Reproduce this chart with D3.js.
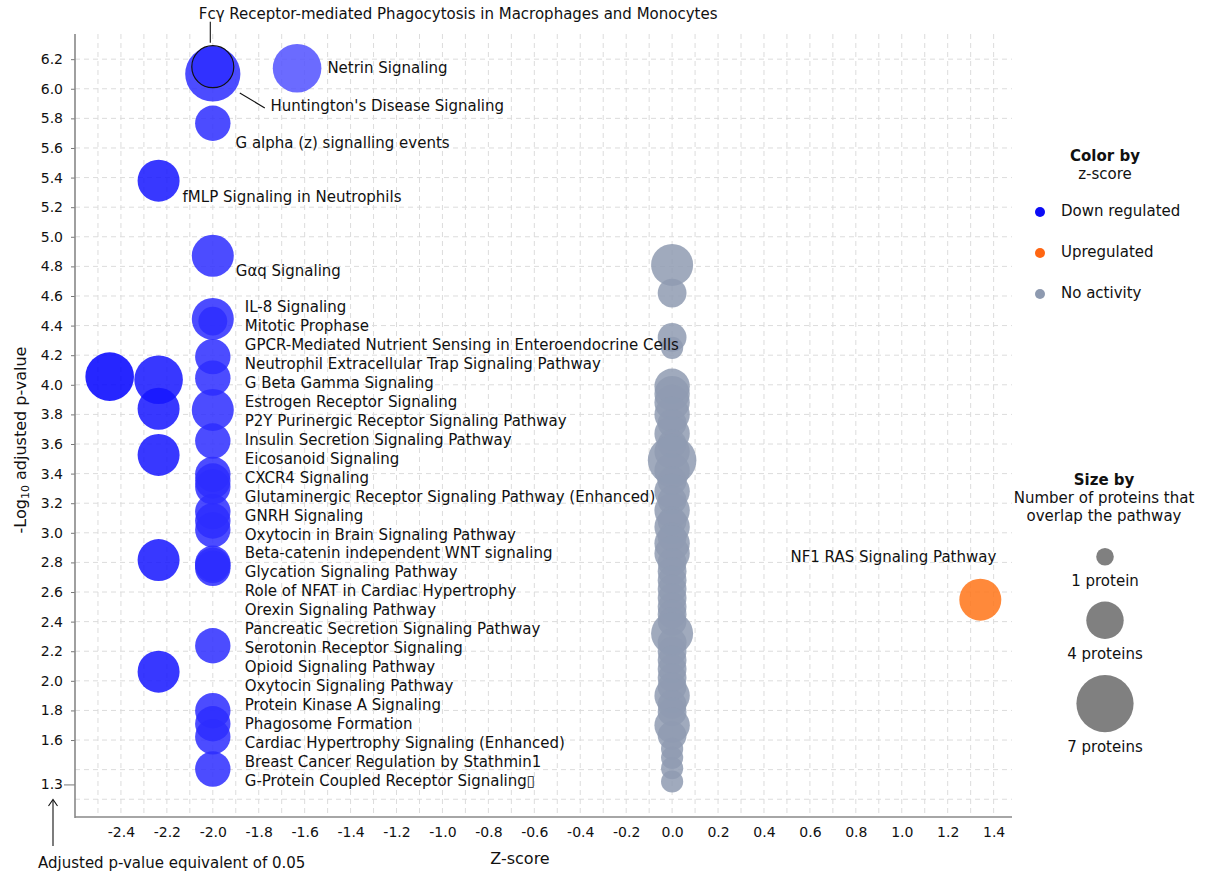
<!DOCTYPE html>
<html>
<head>
<meta charset="utf-8">
<script src="https://cdn.jsdelivr.net/npm/d3@7"></script>
<style>
  body { margin: 0; background: #fff; }
  svg text { font-family: "DejaVu Sans", "Liberation Sans", sans-serif; fill: #111; }
</style>
</head>
<body>
<svg id="chart" width="1205" height="874"></svg>
<script>
// ---------------- data ----------------
// Pathways annotated individually (z-score, -log10 adjusted p, proteins in overlap)
const calloutNames = [
  "Huntington's Disease Signaling",
  "Fcγ Receptor-mediated Phagocytosis in Macrophages and Monocytes",
  "Netrin Signaling",
  "G alpha (z) signalling events",
  "fMLP Signaling in Neutrophils",
  "Gαq Signaling",
  "NF1 RAS Signaling Pathway"
];
const calloutZ        = [-2.0, -2.0, -1.633, -2.0, -2.236, -2.0, 1.342];
const calloutLogP     = [6.10, 6.149, 6.139, 5.767, 5.379, 4.872, 2.548];
const calloutProteins = [7, 5, 6, 4, 5, 5, 5];

// Down-regulated pathways labelled in the stacked list
const listNames = [
  "IL-8 Signaling",
  "Mitotic Prophase",
  "GPCR-Mediated Nutrient Sensing in Enteroendocrine Cells",
  "Neutrophil Extracellular Trap Signaling Pathway",
  "G Beta Gamma Signaling",
  "Estrogen Receptor Signaling",
  "P2Y Purinergic Receptor Signaling Pathway",
  "Insulin Secretion Signaling Pathway",
  "Eicosanoid Signaling",
  "CXCR4 Signaling",
  "Glutaminergic Receptor Signaling Pathway (Enhanced)",
  "GNRH Signaling",
  "Oxytocin in Brain Signaling Pathway",
  "Beta-catenin independent WNT signaling",
  "Glycation Signaling Pathway",
  "Role of NFAT in Cardiac Hypertrophy",
  "Orexin Signaling Pathway",
  "Pancreatic Secretion Signaling Pathway",
  "Serotonin Receptor Signaling",
  "Opioid Signaling Pathway",
  "Oxytocin Signaling Pathway",
  "Protein Kinase A Signaling",
  "Phagosome Formation",
  "Cardiac Hypertrophy Signaling (Enhanced)",
  "Breast Cancer Regulation by Stathmin1",
  "G-Protein Coupled Receptor Signaling\u25AF"
];
const listZ = [
  -2.0, -2.0, -2.0, -2.449, -2.0, -2.236, -2.236, -2.0, -2.0, -2.236,
  -2.0, -2.0, -2.0, -2.0, -2.0, -2.0, -2.236, -2.0, -2.0, -2.0,
  -2.0, -2.236, -2.0, -2.0, -2.0, -2.0
];
const listLogP = [
  4.445, 4.43, 4.19, 4.055, 4.045, 4.034, 3.838, 3.83, 3.62, 3.526,
  3.395, 3.35, 3.31, 3.143, 3.08, 3.02, 2.816, 2.794, 2.78, 2.76,
  2.237, 2.062, 1.798, 1.71, 1.622, 1.404
];
const listProteins = [
  5, 3, 4, 6, 4, 6, 5, 5, 4, 5,
  4, 4, 4, 4, 4, 4, 5, 4, 4, 4,
  4, 5, 4, 4, 4, 4
];

// Pathways with no predicted activity (z-score 0)
const flatLogP = [
  4.81, 4.62, 4.32, 4.25, 3.99, 3.94, 3.88, 3.80, 3.74, 3.67,
  3.60, 3.55, 3.49, 3.42, 3.35, 3.28, 3.22, 3.15, 3.08, 3.04,
  2.97, 2.93, 2.86, 2.80, 2.74, 2.68, 2.62, 2.56, 2.50, 2.45,
  2.40, 2.32, 2.26, 2.20, 2.14, 2.08, 2.02, 1.96, 1.90, 1.84,
  1.79, 1.70, 1.63, 1.54, 1.48, 1.41, 1.32
];
const flatProteins = [
  5, 3, 3, 2, 4, 4, 4, 4, 3, 4,
  3, 4, 6, 4, 3, 4, 3, 4, 3, 4,
  3, 4, 4, 3, 3, 3, 3, 3, 3, 3,
  3, 5, 3, 3, 3, 3, 3, 3, 4, 3,
  3, 4, 3, 2, 2, 2, 2
];

const xTickValues = [-2.4, -2.2, -2.0, -1.8, -1.6, -1.4, -1.2, -1.0, -0.8, -0.6,
                     -0.4, -0.2, 0.0, 0.2, 0.4, 0.6, 0.8, 1.0, 1.2, 1.4];
const yTickValues = [6.2, 6.0, 5.8, 5.6, 5.4, 5.2, 5.0, 4.8, 4.6, 4.4, 4.2, 4.0,
                     3.8, 3.6, 3.4, 3.2, 3.0, 2.8, 2.6, 2.4, 2.2, 2.0, 1.8, 1.6];
const thresholdLogP = 1.3;
const legendColorItems = ["Down regulated", "Upregulated", "No activity"];
const legendSizeItems = [1, 4, 7];

// ---------------- layout ----------------
const svg = d3.select("#chart");
const plot = { left: 75, right: 1012, top: 34, bottom: 817 };

const x = d3.scaleLinear().domain([-2.6, 1.48]).range([plot.left, plot.right]);
const y = d3.scaleLinear().domain([1.08, 6.37]).range([plot.bottom, plot.top]);
const r = d3.scaleLinear().domain([1, 7]).range([7.8, 27.6]);

const downColor = d3.scaleLinear().domain([-2.449, -1.633]).range(["#0000ff", "#5151ff"]).clamp(true);
const upColor = "#ff7418";
const flatColor = "#8f9bb2";
const markOpacity = 0.85;
function colorFor(z) { return z < 0 ? downColor(z) : (z > 0 ? upColor : flatColor); }

// plain hyphen for negative tick labels
const fmt1 = d => d3.format(".1f")(d).replace("\u2212", "-");

// ---------------- grid ----------------
const grid = svg.append("g").attr("stroke", "#dcdcdc").attr("stroke-width", 1)
  .attr("stroke-dasharray", "5,4");
const vGrid = d3.range(-25, 15).map(d => d / 10);
grid.selectAll("line.v").data(vGrid).join("line")
  .attr("x1", d => x(d)).attr("x2", d => x(d))
  .attr("y1", plot.top).attr("y2", plot.bottom);
const hGrid = d3.range(6, 32).map(d => d / 5);
grid.selectAll("line.h").data(hGrid).join("line")
  .attr("x1", plot.left).attr("x2", plot.right)
  .attr("y1", d => y(d)).attr("y2", d => y(d));

// ---------------- axes ----------------
const yAxis = d3.axisLeft(y).tickValues(yTickValues.concat([thresholdLogP]))
  .tickFormat(fmt1).tickSize(4).tickPadding(8);
const gy = svg.append("g").attr("transform", `translate(${plot.left},0)`).call(yAxis);
gy.select(".domain").remove();
gy.selectAll(".tick line").attr("stroke", "#777")
  .attr("x2", d => d === thresholdLogP ? -11 : -4);
gy.selectAll(".tick text").attr("font-size", 14).attr("fill", "#111")
  .attr("font-family", "DejaVu Sans")
  .attr("x", -12);

const xAxis = d3.axisBottom(x).tickValues(xTickValues).tickFormat(fmt1)
  .tickSize(0).tickPadding(10);
const gx = svg.append("g").attr("transform", `translate(0,${plot.bottom})`).call(xAxis);
gx.select(".domain").remove();
gx.selectAll(".tick text").attr("font-size", 14).attr("fill", "#111")
  .attr("font-family", "DejaVu Sans");

svg.append("line").attr("x1", plot.left).attr("x2", plot.left)
  .attr("y1", plot.top).attr("y2", plot.bottom + 1)
  .attr("stroke", "#888").attr("stroke-width", 1.6);
svg.append("line").attr("x1", plot.left).attr("x2", plot.right)
  .attr("y1", plot.bottom).attr("y2", plot.bottom)
  .attr("stroke", "#888").attr("stroke-width", 1.6);

svg.append("text").attr("x", 520).attr("y", 864).attr("text-anchor", "middle")
  .attr("font-size", 16).text("Z-score");

const yl = svg.append("text").attr("transform", "translate(26,440) rotate(-90)")
  .attr("text-anchor", "middle").attr("font-size", 16);
yl.append("tspan").text("-Log");
yl.append("tspan").attr("font-size", 11).attr("dy", 3).text("10");
yl.append("tspan").attr("dy", -3).text(" adjusted p-value");

// threshold note with arrow
svg.append("line").attr("x1", 53).attr("x2", 53).attr("y1", 846).attr("y2", 800)
  .attr("stroke", "#111").attr("stroke-width", 1.1);
svg.append("path").attr("d", "M48.5,806 L53,799.5 L57.5,806").attr("fill", "none")
  .attr("stroke", "#111").attr("stroke-width", 1.1);
svg.append("text").attr("x", 38).attr("y", 868).attr("font-size", 15)
  .text("Adjusted p-value equivalent of 0.05");

// ---------------- marks ----------------
const flatPts = flatLogP.map((v, i) => ({ z: 0, p: v, n: flatProteins[i] }));
const listPts = listNames.map((name, i) => ({ name, z: listZ[i], p: listLogP[i], n: listProteins[i] }));
const calloutPts = calloutNames.map((name, i) => ({ name, z: calloutZ[i], p: calloutLogP[i], n: calloutProteins[i], idx: i }));

const marks = svg.append("g");
function drawPoints(data, cls) {
  marks.selectAll("circle." + cls).data(data).join("circle")
    .attr("class", cls)
    .attr("cx", d => x(d.z)).attr("cy", d => y(d.p)).attr("r", d => r(d.n))
    .attr("fill", d => colorFor(d.z)).attr("fill-opacity", markOpacity);
}
drawPoints(flatPts, "flat");
drawPoints(listPts, "list");
drawPoints(calloutPts, "callout");
// outline on the highlighted pathway
marks.selectAll("circle.callout").filter(d => d.idx === 1)
  .attr("stroke", "#111").attr("stroke-width", 1.2);

// ---------------- labels ----------------
const labels = svg.append("g").attr("font-size", 15);

// callout placement relative to each circle centre
const calloutPlacement = [
  { dx: d => r(d.n) + 30, dy: 32, anchor: "start", leader: d => [27, 19, 52, 34] },
  { dx: -14, dy: d => -r(d.n) - 32, anchor: "start", leader: d => [-2.5, -r(d.n) - 3, -2.5, -r(d.n) - 24] },
  { dx: d => r(d.n) + 6, dy: 0, anchor: "start" },
  { dx: d => r(d.n) + 5, dy: 20, anchor: "start" },
  { dx: d => r(d.n) + 3, dy: 16, anchor: "start" },
  { dx: d => r(d.n) + 2, dy: 15, anchor: "start" },
  { dx: 16, dy: -43, anchor: "end" }
];
const val = (f, d) => typeof f === "function" ? f(d) : f;

calloutPts.forEach(d => {
  const pl = calloutPlacement[d.idx];
  const cx = x(d.z), cy = y(d.p);
  if (pl.leader) {
    const [a, b, c, e] = pl.leader(d);
    labels.append("line").attr("x1", cx + a).attr("y1", cy + b)
      .attr("x2", cx + c).attr("y2", cy + e)
      .attr("stroke", "#111").attr("stroke-width", 1.1);
  }
  labels.append("text")
    .attr("x", cx + val(pl.dx, d)).attr("y", cy + val(pl.dy, d))
    .attr("dominant-baseline", "central").attr("text-anchor", pl.anchor)
    .text(d.name);
});

// stacked list of labels to the right of the z = -2 column
const listX = x(-2.0) + 32;
const listTop = 307, listStep = 18.96;
labels.selectAll("text.list").data(listPts).join("text")
  .attr("class", "list")
  .attr("x", listX).attr("y", (d, i) => listTop + i * listStep)
  .attr("dominant-baseline", "central")
  .text(d => d.name);

// ---------------- legends ----------------
const lg = svg.append("g").attr("font-size", 15);
lg.append("text").attr("x", 1105).attr("y", 156).attr("text-anchor", "middle")
  .attr("dominant-baseline", "central").attr("font-weight", "bold").text("Color by");
lg.append("text").attr("x", 1105).attr("y", 174).attr("text-anchor", "middle")
  .attr("dominant-baseline", "central").text("z-score");
const legendDotColors = ["#0c0cf6", "#ff6612", "#8e9ab0"];
legendColorItems.forEach((t, i) => {
  const yy = 212 + i * 41;
  lg.append("circle").attr("cx", 1040).attr("cy", yy).attr("r", 5).attr("fill", legendDotColors[i]);
  lg.append("text").attr("x", 1061).attr("y", yy - 1).attr("dominant-baseline", "central").text(t);
});

lg.append("text").attr("x", 1104).attr("y", 480).attr("text-anchor", "middle")
  .attr("dominant-baseline", "central").attr("font-weight", "bold").text("Size by");
lg.append("text").attr("x", 1104).attr("y", 498).attr("text-anchor", "middle")
  .attr("dominant-baseline", "central").text("Number of proteins that");
lg.append("text").attr("x", 1104).attr("y", 516).attr("text-anchor", "middle")
  .attr("dominant-baseline", "central").text("overlap the pathway");

let cursor = 548;
legendSizeItems.forEach(n => {
  const rr = r(n) + 1;
  const cy = cursor + rr;
  lg.append("circle").attr("cx", 1105).attr("cy", cy).attr("r", rr).attr("fill", "#808080");
  lg.append("text").attr("x", 1105).attr("y", cy + rr + 15).attr("text-anchor", "middle")
    .attr("dominant-baseline", "central").text(n === 1 ? "1 protein" : `${n} proteins`);
  cursor = cy + rr + 15 + 21;
});
</script>
</body>
</html>
